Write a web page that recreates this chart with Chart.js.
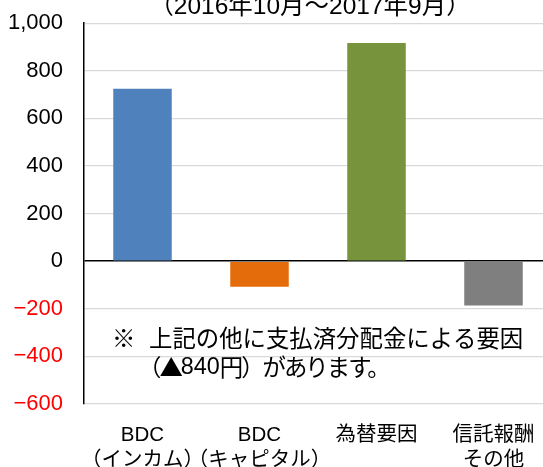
<!DOCTYPE html>
<html>
<head>
<meta charset="utf-8">
<script src="https://cdn.jsdelivr.net/npm/chart.js@4/dist/chart.umd.min.js"></script>
<style>
  html, body { margin: 0; padding: 0; background: #fff; overflow: hidden; width: 543px; height: 467px; }
  #wrap { position: absolute; left: 0; top: -11px; width: 620px; height: 485px; }
</style>
</head>
<body>
<div id="wrap"><canvas id="c"></canvas></div>
<script>
// 分配金の変動要因（円）
const categories = [['BDC', '（インカム）'], ['BDC', '（キャピタル）'], ['為替要因'], ['信託報酬', 'その他']];
const values = [725, -107, 917, -186];
const barColors = ['#4f81bd', '#e46c0a', '#77933c', '#7f7f7f'];
const titleText = '（2016年10月～2017年9月）';
const noteLine1 = '上記の他に支払済分配金による要因';
const noteLine2 = [['（▲', 'jp'], ['840', 'latin'], ['円）があります。', 'jp']];

const latinJp = "'Liberation Sans', 'Noto Sans CJK JP', sans-serif";
const jpFont = "'Noto Sans CJK JP', sans-serif";

// 注記テキスト（※）をプロット内に描く
const notePlugin = {
  id: 'note',
  afterDraw(chart) {
    const { ctx, chartArea, scales } = chart;
    const y = scales.y;
    ctx.save();
    ctx.fillStyle = '#000';
    ctx.textBaseline = 'middle';
    ctx.textAlign = 'left';
    const y1 = y.getPixelForValue(-325);
    const y2 = y.getPixelForValue(-446);
    ctx.font = '23.4px ' + jpFont;
    ctx.fillText('※', chartArea.left + 28, y1);
    ctx.fillText(noteLine1, chartArea.left + 65, y1);
    let x = chartArea.left + 54;
    noteLine2.forEach(([txt, kind]) => {
      ctx.font = '23.4px ' + (kind === 'latin' ? "'Liberation Sans', sans-serif" : jpFont);
      ctx.letterSpacing = kind === 'latin' ? '0px' : '-2px';
      ctx.fillText(txt, x, y2);
      x += ctx.measureText(txt).width;
    });
    ctx.restore();
  }
};

new Chart(document.getElementById('c'), {
  type: 'bar',
  data: {
    labels: categories,
    datasets: [{
      data: values,
      backgroundColor: barColors,
      borderWidth: 0,
      barPercentage: 0.5,
      categoryPercentage: 1
    }]
  },
  options: {
    responsive: true,
    maintainAspectRatio: false,
    animation: false,
    layout: { padding: 0 },
    plugins: {
      legend: { display: false },
      tooltip: { enabled: false },
      title: {
        display: true,
        text: titleText,
        color: '#000',
        font: { family: latinJp, size: 24.5, weight: 'normal' },
        padding: { top: 0, bottom: 1.6 }
      }
    },
    scales: {
      x: {
        grid: { display: false },
        border: { display: false },
        ticks: {
          color: '#000',
          autoSkip: false,
          maxRotation: 0,
          padding: 11,
          font: { family: latinJp, size: 20.5, lineHeight: 1.2 }
        },
        afterFit(scale) { scale.height = 70; }
      },
      y: {
        min: -600,
        max: 1000,
        border: { display: true, color: '#000', width: 1.5 },
        grid: {
          drawTicks: false,
          color: ctx => ctx.tick && ctx.tick.value === 0 ? '#000' : '#d9d9d9',
          lineWidth: ctx => ctx.tick && ctx.tick.value === 0 ? 1.5 : 1.3
        },
        ticks: {
          stepSize: 200,
          padding: 21,
          font: { family: "'Liberation Sans', sans-serif", size: 22 },
          color: ctx => ctx.tick.value < 0 ? '#ff0000' : '#000',
          callback: v => (v < 0 ? '\u2212' : '') + Math.abs(v).toLocaleString('en-US')
        },
        afterFit(scale) { scale.width = 84; }
      },
      // 右側の余白用（非表示の軸）
      yPad: {
        position: 'right',
        min: -600,
        max: 1000,
        grid: { display: false },
        border: { display: false },
        ticks: { display: false },
        afterFit(scale) { scale.width = 68; }
      }
    }
  },
  plugins: [notePlugin]
});
</script>
</body>
</html>
